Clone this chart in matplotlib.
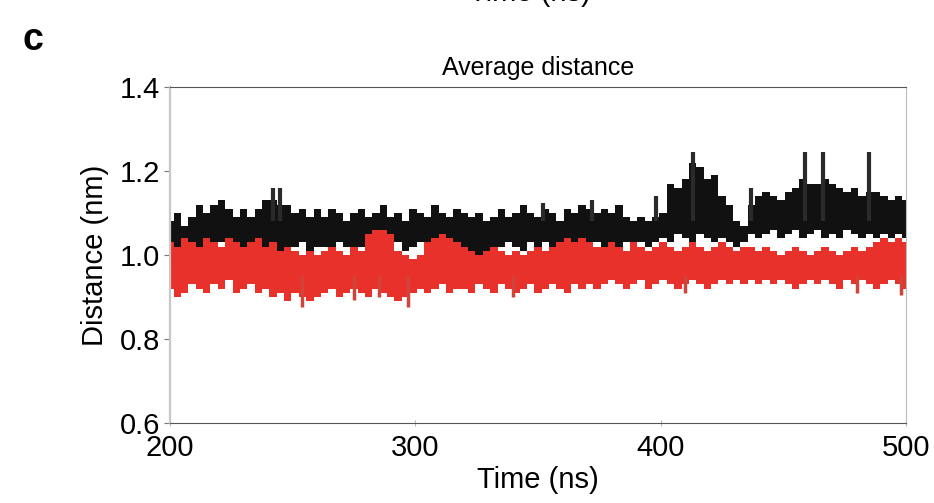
import numpy as np
import matplotlib.pyplot as plt

plt.rcParams['font.family'] = ['Liberation Sans', 'DejaVu Sans']

# sampled every 3 ns from 200 ns, upper / lower envelope of each trace (nm)
time_start = 200
time_step = 3

black_hi = [1.08, 1.10, 1.07, 1.09,
            1.12, 1.10, 1.12, 1.13, 1.11, 1.09,
            1.11, 1.09, 1.11,
            1.13, 1.13, 1.12, 1.12,
            1.10, 1.11, 1.09, 1.11,
            1.09, 1.11, 1.10, 1.08, 1.10, 1.11, 1.09, 1.10, 1.12, 1.09,
            1.10, 1.08, 1.11, 1.10, 1.09, 1.12, 1.10, 1.09, 1.11,
            1.10, 1.09, 1.10, 1.08, 1.09,
            1.11, 1.09, 1.10, 1.12, 1.10, 1.09, 1.11, 1.10, 1.08, 1.11, 1.10, 1.12, 1.11,
            1.10, 1.11, 1.10, 1.12,
            1.09, 1.08, 1.09, 1.08, 1.09,
            1.10, 1.17, 1.16, 1.18,
            1.22, 1.21,
            1.18, 1.19,
            1.14, 1.12,
            1.08, 1.07,
            1.12,
            1.14, 1.15, 1.14, 1.13, 1.15, 1.16,
            1.18, 1.17,
            1.17, 1.18,
            1.17, 1.16,
            1.15, 1.16, 1.14,
            1.15,
            1.15, 1.14, 1.13, 1.14, 1.13]
black_lo = [1.00, 1.02, 1.01, 1.03, 1.00, 1.02, 1.01, 1.03, 1.02, 1.00, 1.01,
            1.02, 1.00, 1.01, 1.02, 1.00, 1.01, 1.02, 1.03, 1.01, 1.02,
            1.02, 1.01, 1.03, 1.02, 1.01, 1.02, 1.03, 1.02, 1.01, 1.02,
            1.03, 1.01, 1.02, 1.03, 1.02, 1.01, 1.02, 1.03, 1.02,
            1.00, 1.01, 0.99, 1.00, 1.01,
            1.02, 1.03, 1.02, 1.01, 1.03, 1.02, 1.03, 1.02, 1.01, 1.02, 1.03, 1.02, 1.03,
            1.03, 1.02, 1.03, 1.02, 1.03, 1.02, 1.03, 1.02, 1.03,
            1.04, 1.03, 1.05, 1.04, 1.03, 1.05, 1.04, 1.03, 1.04, 1.03, 1.02, 1.03,
            1.05, 1.04, 1.05, 1.06, 1.04, 1.05, 1.06, 1.04, 1.05, 1.06, 1.04,
            1.05, 1.04, 1.06, 1.05, 1.04, 1.05, 1.04, 1.05, 1.04, 1.05, 1.04]

red_hi = [1.03, 1.02, 1.04, 1.03, 1.02, 1.04, 1.03, 1.02, 1.04, 1.03,
          1.02, 1.03, 1.04, 1.02, 1.03, 1.01, 1.02,
          1.01, 1.00, 1.01, 1.00, 1.01, 1.02, 1.01, 1.00, 1.02, 1.01,
          1.05, 1.06, 1.06, 1.05,
          1.01, 1.00, 0.99, 1.00,
          1.03, 1.04, 1.05, 1.04, 1.03, 1.02,
          1.01, 1.00, 1.01, 1.02, 1.01, 1.00, 1.01, 1.00, 1.01, 1.02, 1.01,
          1.02, 1.03, 1.04, 1.03, 1.04, 1.03, 1.02,
          1.02, 1.03, 1.02, 1.01, 1.03, 1.02, 1.01, 1.02, 1.03, 1.02,
          1.01, 1.02, 1.03, 1.02, 1.01, 1.02, 1.03, 1.02, 1.01, 1.02,
          1.02, 1.01, 1.02, 1.01, 1.00, 1.01, 1.02, 1.01, 1.00, 1.01, 1.02, 1.01, 1.00,
          1.01, 1.02, 1.01, 1.02, 1.03, 1.04, 1.03, 1.04, 1.03]
red_lo = [0.92, 0.90, 0.91, 0.93, 0.92, 0.91, 0.93, 0.92, 0.94, 0.91,
          0.92, 0.93, 0.91, 0.92, 0.90, 0.91, 0.89, 0.91, 0.90, 0.89, 0.90,
          0.91, 0.92, 0.90, 0.91, 0.92, 0.91, 0.90, 0.92, 0.91, 0.90,
          0.89, 0.90, 0.91, 0.92, 0.91, 0.92, 0.93, 0.91, 0.92,
          0.92, 0.91, 0.93, 0.92, 0.91, 0.93, 0.92, 0.91, 0.92, 0.93,
          0.91, 0.92, 0.93, 0.92, 0.91, 0.93, 0.92, 0.93, 0.92,
          0.93, 0.94, 0.93, 0.92, 0.93, 0.94, 0.92, 0.93, 0.94, 0.93,
          0.92, 0.93, 0.94, 0.93, 0.92, 0.93, 0.94, 0.93, 0.94, 0.93,
          0.94, 0.93, 0.94, 0.93, 0.94, 0.93, 0.92, 0.93, 0.94, 0.93, 0.94,
          0.93, 0.92, 0.94, 0.93, 0.94, 0.93, 0.92, 0.93, 0.94, 0.93, 0.92]

# single-frame excursions
black_spike_t = [242, 245, 352, 372, 398, 413, 437, 459, 466, 485]
black_spike_v = [1.16, 1.16, 1.125, 1.13, 1.14, 1.245, 1.16, 1.245, 1.245, 1.245]
red_spike_t = [254, 275, 285, 297, 340, 410, 480, 498]
red_spike_v = [0.876, 0.893, 0.90, 0.876, 0.90, 0.91, 0.91, 0.905]

black_col = '#111111'
red_col = '#e8312b'

times = time_start + time_step * np.arange(len(black_hi))

fig = plt.figure(figsize=(9.34, 5.03), dpi=100)
ax = fig.add_axes([170 / 934, 1 - 423 / 503, 736 / 934, 336 / 503])

bh, bl = np.array(black_hi), np.array(black_lo)
rh, rl = np.array(red_hi), np.array(red_lo)
ax.bar(times, bh - bl, bottom=bl, width=time_step, color=black_col, linewidth=0)
ax.vlines(black_spike_t, 1.08, black_spike_v, color='#2a2a2a', lw=3)
ax.bar(times, rh - rl, bottom=rl, width=time_step, color=red_col, linewidth=0)
ax.vlines(red_spike_t, red_spike_v, 0.95, color='#d0443c', lw=2.5)

ax.set_xlim(200, 500)
ax.set_ylim(0.6, 1.4)
ax.set_xticks([200, 300, 400, 500])
ax.set_yticks([0.6, 0.8, 1.0, 1.2, 1.4])
ax.set_yticklabels(['0.6', '0.8', '1.0', '1.2', '1.4'])

for side in ['top', 'right', 'bottom']:
    ax.spines[side].set_color('#555555')
    ax.spines[side].set_linewidth(0.8)
ax.spines['right'].set_color('#bbbbbb')
ax.spines['left'].set_color('#c8c8c8')
ax.spines['left'].set_linewidth(1.6)

ax.tick_params(axis='y', direction='out', length=4, color='#777777', labelsize=21, pad=3)
ax.tick_params(axis='x', direction='inout', length=4, color='#bbbbbb', labelsize=21, pad=6)

ax.set_xlabel('Time (ns)', fontsize=21, labelpad=3)
ax.set_ylabel('Distance (nm)', fontsize=21, labelpad=8)
ax.set_title('Average distance', fontsize=18, pad=9)

fig.text(22 / 934, 1 - 40 / 503, 'c', fontsize=27, fontweight='bold', va='center', ha='left')
# caption of the panel above, cut by the image edge
fig.text(0.567, 1 - 7 / 503, 'Time (ns)', fontsize=21, ha='center', va='bottom')

fig.savefig('out.png', dpi=100)
